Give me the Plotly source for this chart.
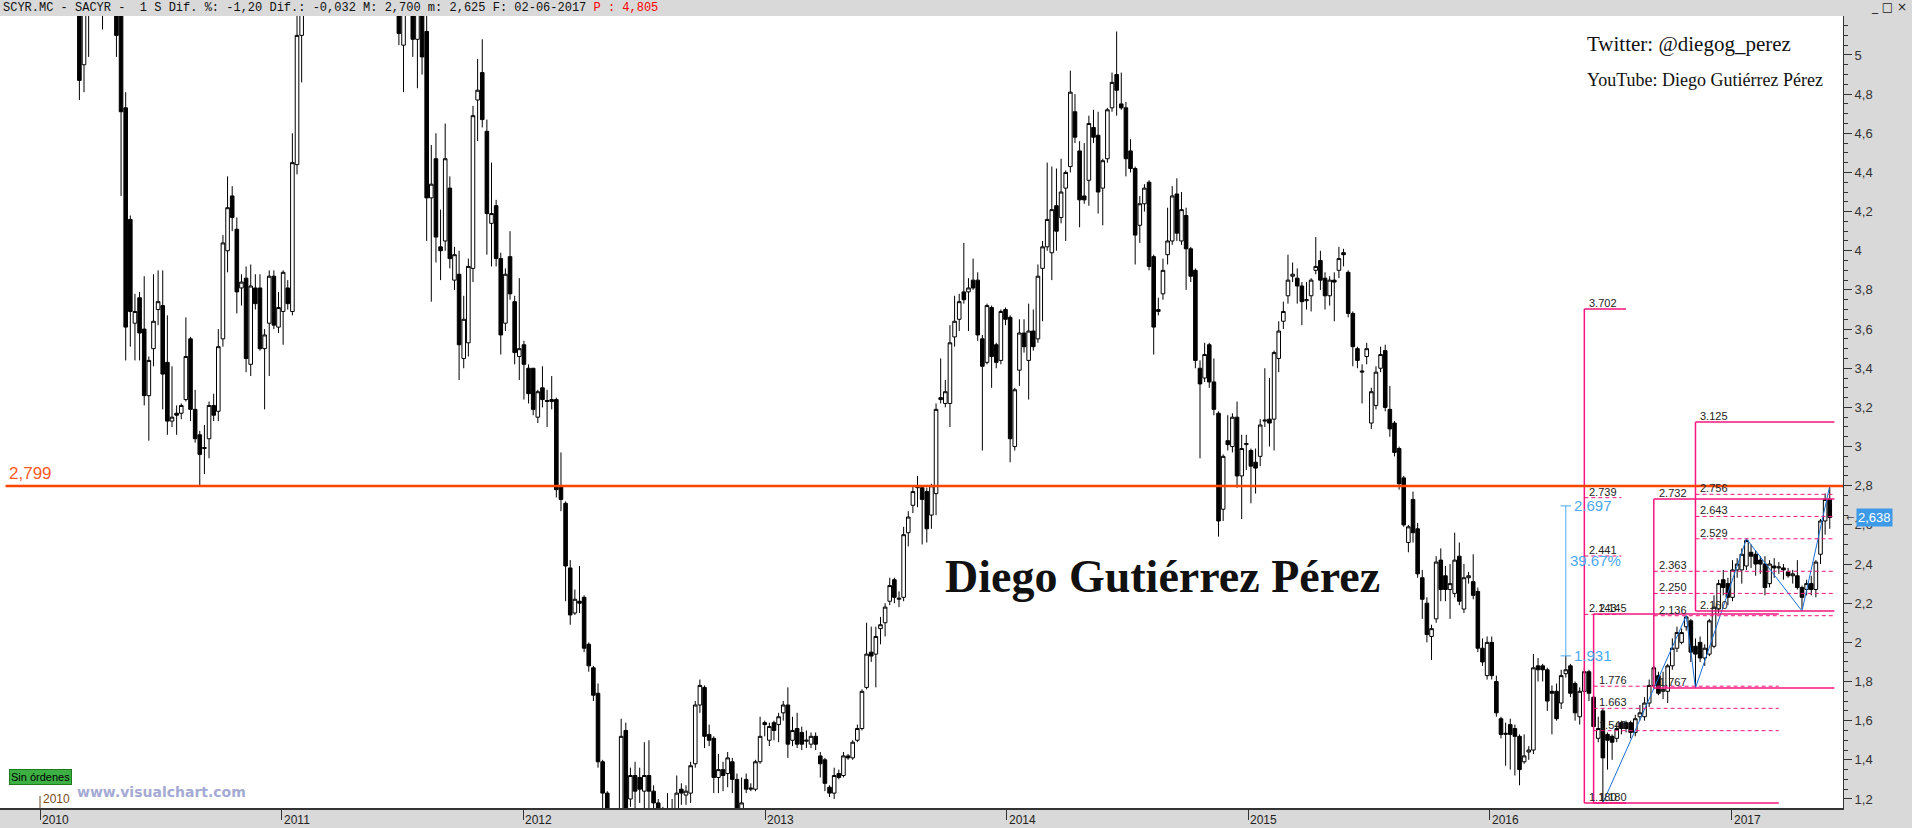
"""SACYR weekly candles 2010-2017 with fibonacci boxes, visualchart style."""

import pandas as pd
import plotly.graph_objects as go

PINK = "#f5157c"
BLUE = "#4aa8f0"
ZIG = "#1a6fd6"
ORANGE = "#ff4500"
PANEL = "#d9d9d9"

# weekly OHLC, one row of ten weeks per line, from the week of 2009-11-09
opens = [
    6.9, 6.8, 6.5, 6.3, 6.5, 6.6, 6.3, 6.4, 6.8, 6.6,
    6.1, 5.8, 5.6, 5.4, 5.6, 5.4, 5.3, 4.95, 5.35, 5.5,
    5.7, 5.5, 5.4, 5.5, 5.35, 5.22, 4.73, 4.16, 3.63, 3.76,
    3.60, 3.26, 3.50, 3.70, 3.72, 3.43, 3.13, 3.17, 3.17, 3.24,
    3.55, 3.19, 3.06, 2.99, 3.04, 3.21, 3.18, 3.55, 4.00, 4.28,
    4.11, 3.81, 3.86, 3.42, 3.81, 3.81, 3.50, 3.63, 3.87, 3.61,
    3.69, 3.81, 3.69, 4.44, 5.10, 5.4, 5.7, 5.6, 5.9, 6.1,
    5.9, 5.6, 5.8, 6.0, 6.2, 6.1, 5.9, 6.0, 5.7, 5.8,
    5.5, 5.6, 5.5, 5.4, 5.5, 5.35, 5.05, 5.30, 5.40, 5.08,
    5.30, 5.12, 4.27, 4.47, 4.02, 4.05, 4.32, 3.85, 3.88, 3.45,
    3.53, 3.91, 4.77, 4.91, 4.61, 4.14, 4.23, 3.96, 3.63, 3.97,
    3.74, 3.46, 3.52, 3.40, 3.40, 3.15, 3.30, 3.23, 3.24, 3.24,
    2.80, 2.71, 2.38, 2.15, 2.21, 2.23, 1.99, 1.87, 1.74, 1.39,
    1.23, 1.10, 1.05, 1.08, 1.55, 1.20, 1.32, 1.31, 1.24, 1.32,
    1.24, 1.18, 1.12, 1.10, 1.12, 1.15, 1.25, 1.22, 1.23, 1.38,
    1.68, 1.77, 1.53, 1.51, 1.31, 1.35, 1.33, 1.39, 1.30, 1.10,
    1.30, 1.25, 1.25, 1.39, 1.59, 1.50, 1.59, 1.58, 1.64, 1.68,
    1.50, 1.56, 1.54, 1.495, 1.48, 1.52, 1.42, 1.40, 1.26, 1.23,
    1.33, 1.32, 1.42, 1.41, 1.50, 1.56, 1.77, 1.95, 1.94, 2.07,
    2.10, 2.21, 2.32, 2.22, 2.23, 2.56, 2.70, 2.79, 2.79, 2.77,
    2.65, 2.76, 3.24, 3.22, 3.22, 3.56, 3.65, 3.79, 3.79, 3.85,
    3.85, 3.55, 3.43, 3.71, 3.52, 3.44, 3.70, 3.66, 3.00, 3.39,
    3.58, 3.44, 3.59, 3.55, 3.91, 4.02, 3.99, 4.23, 4.17, 4.32,
    4.43, 4.71, 4.51, 4.28, 4.36, 4.63, 4.59, 4.32, 4.47, 4.73,
    4.90, 4.75, 4.73, 4.51, 4.42, 4.13, 4.24, 4.35, 3.97, 3.69,
    3.78, 3.98, 4.05, 4.29, 4.05, 4.18, 4.01, 3.90, 3.40, 3.35,
    3.52, 3.33, 3.17, 2.68, 3.03, 3.00, 3.15, 2.85, 3.01, 2.98,
    2.92, 2.95, 3.13, 3.14, 3.14, 3.45, 3.64, 3.77, 3.87, 3.86,
    3.82, 3.745, 3.77, 3.90, 3.95, 3.86, 3.77, 3.85, 3.90, 3.99,
    3.89, 3.68, 3.50, 3.38, 3.46, 3.12, 3.21, 3.40, 3.49, 3.19,
    3.12, 2.99, 2.84, 2.51, 2.73, 2.58, 2.33, 2.20, 2.03, 2.12,
    2.42, 2.34, 2.27, 2.25, 2.44, 2.17, 2.33, 2.31, 2.26, 1.97,
    1.83, 2.00, 1.80, 1.61, 1.53, 1.58, 1.56, 1.52, 1.39, 1.44,
    1.45, 1.88, 1.88, 1.86, 1.75, 1.75, 1.69, 1.84, 1.88, 1.79,
    1.62, 1.75, 1.85, 1.72, 1.51, 1.65, 1.53, 1.52, 1.51, 1.59,
    1.59, 1.59, 1.54, 1.62, 1.62, 1.69, 1.78, 1.83, 1.75, 1.75,
    1.88, 1.97, 2.00, 2.08, 2.11, 1.98, 2.00, 1.92, 1.94, 1.98,
    2.17, 2.32, 2.30, 2.23, 2.37, 2.37, 2.39, 2.46, 2.45, 2.42,
    2.40, 2.30, 2.39, 2.38, 2.38, 2.36, 2.34, 2.34, 2.28, 2.27,
    2.30, 2.27, 2.45, 2.62, 2.73,
]
highs = [
    7.2, 7.0, 6.7, 6.6, 6.8, 6.7, 6.5, 6.9, 7.1, 6.7,
    6.3, 6.0, 5.8, 5.7, 5.8, 5.6, 5.4, 5.45, 5.6, 5.8,
    5.9, 5.7, 5.6, 5.6, 5.45, 5.3, 4.81, 4.18, 3.78, 3.79,
    3.87, 3.46, 3.88, 3.90, 3.90, 3.67, 3.41, 3.21, 3.22, 3.66,
    3.56, 3.29, 3.08, 3.11, 3.23, 3.27, 3.60, 4.08, 4.38, 4.33,
    4.17, 3.88, 3.92, 3.93, 3.88, 3.88, 3.60, 3.90, 3.90, 3.79,
    3.90, 3.85, 4.60, 5.25, 5.60, 5.8, 5.9, 6.0, 6.2, 6.3,
    6.0, 5.9, 6.1, 6.3, 6.4, 6.2, 6.1, 6.1, 5.9, 5.9,
    5.7, 5.8, 5.6, 5.6, 5.6, 5.40, 5.35, 5.50, 5.45, 5.35,
    5.35, 5.25, 4.54, 4.60, 4.21, 4.65, 4.38, 4.02, 4.00, 3.77,
    3.96, 4.74, 4.98, 5.08, 4.67, 4.45, 4.26, 3.99, 3.91, 4.10,
    3.77, 3.86, 3.54, 3.42, 3.40, 3.29, 3.41, 3.29, 3.36, 3.25,
    2.97, 2.72, 2.42, 2.27, 2.39, 2.24, 2.00, 1.88, 1.79, 1.40,
    1.24, 1.14, 1.12, 1.61, 1.59, 1.36, 1.39, 1.36, 1.49, 1.50,
    1.27, 1.20, 1.16, 1.23, 1.20, 1.32, 1.28, 1.27, 1.39, 1.70,
    1.81, 1.78, 1.58, 1.52, 1.43, 1.39, 1.44, 1.41, 1.33, 1.31,
    1.33, 1.28, 1.40, 1.62, 1.60, 1.59, 1.60, 1.64, 1.70, 1.77,
    1.62, 1.64, 1.57, 1.55, 1.54, 1.54, 1.44, 1.41, 1.27, 1.36,
    1.35, 1.44, 1.43, 1.50, 1.58, 1.76, 2.10, 2.08, 2.08, 2.13,
    2.20, 2.33, 2.33, 2.26, 2.59, 2.67, 2.80, 2.85, 2.80, 2.79,
    2.81, 3.22, 3.45, 3.34, 3.62, 3.77, 3.78, 4.04, 3.86, 3.96,
    3.89, 3.57, 3.73, 3.72, 3.53, 3.70, 3.71, 3.67, 3.30, 3.65,
    3.65, 3.73, 3.70, 3.93, 4.05, 4.45, 4.43, 4.42, 4.47, 4.41,
    4.92, 4.80, 4.56, 4.55, 4.69, 4.72, 4.71, 4.47, 4.73, 4.91,
    5.12, 4.91, 4.76, 4.57, 4.43, 4.28, 4.34, 4.36, 3.98, 3.76,
    3.96, 4.22, 4.33, 4.37, 4.30, 4.22, 4.02, 3.91, 3.44, 3.53,
    3.53, 3.45, 3.18, 2.96, 3.16, 3.17, 3.23, 3.06, 3.06, 2.99,
    2.99, 3.14, 3.40, 3.35, 3.49, 3.64, 3.74, 3.98, 3.94, 3.91,
    3.84, 3.84, 3.86, 4.07, 4.00, 3.89, 3.87, 3.89, 4.02, 4.01,
    3.90, 3.69, 3.51, 3.42, 3.53, 3.30, 3.41, 3.51, 3.52, 3.31,
    3.13, 3.00, 2.85, 2.60, 2.77, 2.61, 2.37, 2.23, 2.09, 2.44,
    2.48, 2.39, 2.40, 2.56, 2.51, 2.40, 2.36, 2.45, 2.28, 2.02,
    2.03, 2.03, 1.83, 1.62, 1.59, 1.61, 1.58, 1.53, 1.53, 1.47,
    1.94, 1.92, 1.89, 1.87, 1.78, 1.79, 1.86, 1.931, 1.89, 1.80,
    1.77, 1.87, 1.86, 1.73, 1.62, 1.66, 1.54, 1.53, 1.59, 1.60,
    1.60, 1.60, 1.63, 1.68, 1.72, 1.81, 1.88, 1.85, 1.85, 1.89,
    2.02, 2.08, 2.07, 2.136, 2.12, 2.02, 2.03, 1.99, 2.12, 2.24,
    2.32, 2.37, 2.33, 2.42, 2.43, 2.48, 2.529, 2.50, 2.47, 2.44,
    2.44, 2.42, 2.43, 2.41, 2.40, 2.38, 2.37, 2.42, 2.29, 2.32,
    2.34, 2.42, 2.63, 2.76, 2.80,
]
lows = [
    6.6, 6.4, 6.1, 6.0, 6.3, 6.2, 6.0, 6.3, 6.5, 6.0,
    5.7, 5.5, 5.35, 5.3, 5.3, 5.25, 4.77, 4.81, 4.99, 5.3,
    5.4, 5.13, 5.25, 5.3, 4.99, 4.28, 3.44, 3.51, 3.44, 3.44,
    3.21, 3.03, 3.41, 3.62, 3.19, 3.06, 3.10, 3.06, 3.14, 3.23,
    3.13, 3.02, 2.80, 2.86, 2.94, 3.13, 3.13, 3.51, 3.89, 4.10,
    3.68, 3.72, 3.38, 3.36, 3.70, 3.49, 3.19, 3.36, 3.60, 3.58,
    3.52, 3.70, 3.67, 4.39, 4.86, 5.3, 5.5, 5.5, 5.8, 5.8,
    5.5, 5.4, 5.7, 5.9, 6.0, 5.8, 5.7, 5.6, 5.5, 5.4,
    5.3, 5.4, 5.3, 5.25, 5.3, 5.05, 4.81, 5.22, 4.99, 4.83,
    4.90, 4.05, 3.74, 3.94, 3.85, 4.00, 3.91, 3.80, 3.34, 3.40,
    3.46, 3.84, 4.56, 4.63, 3.98, 3.92, 3.92, 3.47, 3.59, 3.75,
    3.42, 3.34, 3.24, 3.22, 3.16, 3.12, 3.20, 3.10, 3.19, 2.74,
    2.67, 2.21, 2.09, 2.14, 2.15, 1.95, 1.85, 1.70, 1.36, 1.15,
    1.05, 1.02, 1.00, 1.06, 1.08, 1.16, 1.15, 1.18, 1.15, 1.15,
    1.15, 1.08, 1.05, 1.06, 1.07, 1.12, 1.17, 1.17, 1.18, 1.36,
    1.64, 1.46, 1.47, 1.23, 1.23, 1.24, 1.26, 1.23, 1.06, 1.08,
    1.23, 1.24, 1.24, 1.38, 1.52, 1.47, 1.50, 1.49, 1.60, 1.41,
    1.47, 1.46, 1.45, 1.46, 1.46, 1.45, 1.31, 1.24, 1.21, 1.20,
    1.30, 1.31, 1.40, 1.40, 1.49, 1.55, 1.76, 1.90, 1.77, 1.99,
    2.03, 2.19, 2.20, 2.18, 2.21, 2.49, 2.66, 2.69, 2.50, 2.51,
    2.58, 2.65, 3.22, 3.20, 3.10, 3.51, 3.59, 3.73, 3.59, 3.80,
    3.54, 2.98, 3.42, 3.30, 3.40, 3.42, 3.62, 2.92, 2.98, 3.31,
    3.48, 3.24, 3.49, 3.53, 3.64, 4.00, 3.85, 4.00, 4.14, 4.05,
    4.40, 4.55, 4.12, 4.24, 4.23, 4.55, 4.19, 4.13, 4.45, 4.71,
    4.69, 4.72, 4.38, 4.40, 3.93, 4.04, 4.20, 3.90, 3.47, 3.67,
    3.75, 3.93, 4.03, 4.05, 4.03, 3.80, 3.84, 3.40, 2.94, 3.33,
    3.30, 3.16, 2.54, 2.62, 2.98, 2.97, 2.79, 2.63, 2.88, 2.71,
    2.76, 2.90, 3.10, 3.00, 2.98, 3.38, 3.60, 3.73, 3.84, 3.73,
    3.62, 3.70, 3.69, 3.88, 3.80, 3.70, 3.72, 3.64, 3.86, 3.92,
    3.66, 3.41, 3.40, 3.22, 3.42, 3.09, 3.19, 3.38, 3.18, 3.05,
    2.95, 2.78, 2.59, 2.46, 2.51, 2.33, 2.12, 2.00, 1.91, 2.10,
    2.21, 2.21, 2.12, 2.23, 2.19, 2.15, 2.30, 2.22, 1.95, 1.88,
    1.81, 1.81, 1.62, 1.51, 1.37, 1.35, 1.32, 1.27, 1.38, 1.40,
    1.43, 1.80, 1.80, 1.65, 1.53, 1.60, 1.66, 1.82, 1.72, 1.60,
    1.58, 1.73, 1.70, 1.55, 1.49, 1.18, 1.35, 1.40, 1.49, 1.53,
    1.54, 1.51, 1.52, 1.60, 1.60, 1.67, 1.76, 1.73, 1.71, 1.69,
    1.86, 1.95, 1.99, 2.06, 1.90, 1.767, 1.90, 1.88, 1.93, 1.97,
    2.15, 2.24, 2.19, 2.21, 2.33, 2.30, 2.37, 2.38, 2.34, 2.35,
    2.24, 2.28, 2.33, 2.35, 2.32, 2.33, 2.30, 2.27, 2.17, 2.24,
    2.24, 2.23, 2.40, 2.55, 2.58,
]
closes = [
    6.8, 6.5, 6.3, 6.5, 6.6, 6.3, 6.4, 6.8, 6.6, 6.1,
    5.8, 5.6, 5.4, 5.6, 5.4, 5.3, 4.87, 5.35, 5.5, 5.7,
    5.5, 5.4, 5.5, 5.35, 5.10, 4.71, 3.61, 3.69, 3.69, 3.58,
    3.26, 3.44, 3.64, 3.74, 3.37, 3.13, 3.15, 3.16, 3.21, 3.46,
    3.19, 3.04, 2.96, 2.995, 3.21, 3.16, 3.51, 4.04, 4.22, 4.17,
    3.79, 3.84, 3.45, 3.82, 3.73, 3.50, 3.57, 3.87, 3.62, 3.71,
    3.89, 3.73, 4.45, 5.10, 5.40, 5.7, 5.6, 5.9, 6.1, 5.9,
    5.6, 5.8, 6.0, 6.2, 6.1, 5.9, 6.0, 5.7, 5.8, 5.5,
    5.6, 5.5, 5.4, 5.5, 5.35, 5.11, 5.30, 5.40, 5.08, 5.30,
    4.99, 4.27, 4.34, 4.07, 4.00, 4.47, 3.96, 3.98, 3.52, 3.65,
    3.92, 4.69, 4.82, 4.67, 4.19, 4.19, 3.96, 3.57, 3.88, 3.78,
    3.48, 3.50, 3.42, 3.27, 3.19, 3.28, 3.24, 3.235, 3.23, 2.78,
    2.73, 2.39, 2.14, 2.22, 2.20, 1.97, 1.88, 1.73, 1.39, 1.23,
    1.10, 1.05, 1.08, 1.52, 1.12, 1.32, 1.24, 1.25, 1.32, 1.24,
    1.18, 1.12, 1.10, 1.12, 1.15, 1.23, 1.23, 1.24, 1.37, 1.68,
    1.78, 1.52, 1.50, 1.31, 1.35, 1.32, 1.41, 1.30, 1.10, 1.18,
    1.25, 1.255, 1.39, 1.52, 1.58, 1.57, 1.55, 1.62, 1.68, 1.48,
    1.55, 1.48, 1.48, 1.50, 1.52, 1.48, 1.38, 1.28, 1.23, 1.32,
    1.31, 1.42, 1.41, 1.49, 1.56, 1.75, 1.94, 1.93, 2.03, 2.09,
    2.18, 2.29, 2.23, 2.225, 2.55, 2.64, 2.77, 2.795, 2.73, 2.58,
    2.80, 3.19, 3.25, 3.28, 3.53, 3.64, 3.74, 3.75, 3.81, 3.81,
    3.57, 3.41, 3.72, 3.46, 3.43, 3.69, 3.65, 3.04, 3.29, 3.58,
    3.51, 3.59, 3.51, 3.87, 4.02, 4.16, 4.21, 4.10, 4.30, 4.40,
    4.81, 4.58, 4.26, 4.26, 4.65, 4.58, 4.30, 4.46, 4.72, 4.86,
    4.82, 4.73, 4.47, 4.42, 4.08, 4.24, 4.32, 3.92, 3.61, 3.70,
    3.90, 4.05, 4.28, 4.09, 4.21, 4.01, 3.87, 3.44, 3.32, 3.47,
    3.33, 3.19, 2.62, 2.95, 3.01, 3.15, 2.85, 2.99, 3.015, 2.90,
    2.89, 3.11, 3.135, 3.12, 3.48, 3.59, 3.69, 3.85, 3.88, 3.82,
    3.74, 3.75, 3.85, 3.92, 3.85, 3.77, 3.85, 3.84, 3.96, 3.98,
    3.68, 3.51, 3.44, 3.385, 3.50, 3.28, 3.38, 3.47, 3.20, 3.09,
    2.97, 2.81, 2.60, 2.59, 2.56, 2.35, 2.22, 2.04, 2.07, 2.41,
    2.27, 2.27, 2.30, 2.42, 2.21, 2.33, 2.34, 2.24, 1.97, 1.90,
    2.00, 1.83, 1.64, 1.53, 1.535, 1.53, 1.52, 1.35, 1.42, 1.45,
    1.87, 1.86, 1.86, 1.70, 1.74, 1.61, 1.83, 1.86, 1.74, 1.64,
    1.75, 1.85, 1.74, 1.57, 1.56, 1.41, 1.50, 1.49, 1.56, 1.56,
    1.56, 1.54, 1.61, 1.64, 1.69, 1.78, 1.87, 1.74, 1.76, 1.88,
    1.97, 2.05, 2.05, 2.13, 1.95, 1.94, 1.92, 1.97, 2.11, 2.18,
    2.30, 2.28, 2.23, 2.37, 2.40, 2.45, 2.52, 2.44, 2.40, 2.40,
    2.28, 2.40, 2.38, 2.385, 2.37, 2.34, 2.35, 2.28, 2.23, 2.30,
    2.27, 2.41, 2.62, 2.73, 2.638,
]

last_close = 2.638
support = 2.799
year_labels = ["2010", "2011", "2012", "2013", "2014", "2015", "2016", "2017"]

# fibonacci boxes: start week, end week, levels top -> bottom (k = weeks after 2010-01-04)
fib_boxes = [
    {"start": 333, "end": 342, "dash_end": 341, "levels": [3.702, 2.739, 2.441, 2.143, 1.180]},
    {"start": 335, "end": 375, "dash_end": 375, "levels": [2.145, 1.776, 1.663, 1.549, 1.180]},
    {"start": 348, "end": 387, "dash_end": 387, "levels": [2.732, 2.363, 2.250, 2.136, 1.767]},
    {"start": 357, "end": 387, "dash_end": 387, "levels": [3.125, 2.756, 2.643, 2.529, 2.160]},
]
# price swing measured with the blue ruler
ruler_week = 329
ruler_low, ruler_high = 1.931, 2.697
ruler_pct = "39.67%"
# hand drawn zigzag
zig_weeks = [337, 355, 357, 368, 380, 386]
zig_prices = [1.180, 2.136, 1.767, 2.529, 2.160, 2.799]

weeks = pd.date_range(end="2017-05-29", periods=len(closes), freq="7D")


def week(k, days=0):
    return pd.Timestamp("2010-01-04") + pd.Timedelta(days=7 * k + days)


fig = go.Figure()
fig.add_trace(
    go.Candlestick(
        x=weeks,
        open=opens,
        high=highs,
        low=lows,
        close=closes,
        increasing={"line": {"color": "#000000", "width": 1}, "fillcolor": "#ffffff"},
        decreasing={"line": {"color": "#000000", "width": 1}, "fillcolor": "#000000"},
        whiskerwidth=0,
        hoverinfo="skip",
        showlegend=False,
    )
)
fig.add_trace(
    go.Scatter(
        x=[week(k) for k in zig_weeks],
        y=zig_prices,
        mode="lines",
        line={"color": ZIG, "width": 1},
        hoverinfo="skip",
        showlegend=False,
    )
)

shapes = []
annotations = []


def hline(k0, k1, y, dash="solid", width=1.5, color=PINK):
    shapes.append({
        "type": "line", "xref": "x", "yref": "y",
        "x0": week(k0), "x1": week(k1), "y0": y, "y1": y,
        "line": {"color": color, "width": width, "dash": dash},
    })


for box in fib_boxes:
    lv = box["levels"]
    shapes.append({
        "type": "line", "xref": "x", "yref": "y",
        "x0": week(box["start"]), "x1": week(box["start"]), "y0": lv[-1], "y1": lv[0],
        "line": {"color": PINK, "width": 1.5},
    })
    for i, level in enumerate(lv):
        if i in (0, len(lv) - 1):
            hline(box["start"], box["end"], level)
        else:
            hline(box["start"], box["dash_end"], level, dash="4px,3px", width=1)
        annotations.append({
            "x": week(box["start"]), "y": level, "xref": "x", "yref": "y",
            "text": f"{level:.3f}", "showarrow": False,
            "xanchor": "left", "yanchor": "bottom", "xshift": 3, "yshift": -2,
            "font": {"family": "Liberation Sans", "size": 11, "color": "#222222"},
        })

# blue ruler
shapes.append({
    "type": "line", "xref": "x", "yref": "y",
    "x0": week(ruler_week), "x1": week(ruler_week), "y0": ruler_low, "y1": ruler_high,
    "line": {"color": BLUE, "width": 1},
})
for y, sign in ((ruler_high, -1), (ruler_low, 1)):
    shapes.append({
        "type": "line", "xref": "x", "yref": "y",
        "x0": week(ruler_week, -8), "x1": week(ruler_week, 8), "y0": y, "y1": y,
        "line": {"color": BLUE, "width": 1},
    })
    shapes.append({
        "type": "path", "xref": "x", "yref": "y",
        "path": (
            f"M {week(ruler_week, -5).isoformat()},{y + sign * 0.025} "
            f"L {week(ruler_week).isoformat()},{y} "
            f"L {week(ruler_week, 5).isoformat()},{y + sign * 0.025}"
        ),
        "line": {"color": BLUE, "width": 1},
    })
for y, txt, xs in ((ruler_high, f"{ruler_high:.3f}", 6), (ruler_low, f"{ruler_low:.3f}", 6),
                   (2.42, ruler_pct, 2)):
    annotations.append({
        "x": week(ruler_week), "y": y, "xref": "x", "yref": "y", "text": txt,
        "showarrow": False, "xanchor": "left", "yanchor": "middle", "xshift": xs,
        "font": {"family": "Liberation Sans", "size": 15, "color": BLUE},
    })

# support line 2,799
shapes.append({
    "type": "line", "xref": "paper", "yref": "y", "x0": 0.003, "x1": 1,
    "y0": support, "y1": support, "line": {"color": ORANGE, "width": 2.5},
})
annotations.append({
    "x": 0.004, "y": support, "xref": "paper", "yref": "y",
    "text": f"{support:.3f}".replace(".", ","), "showarrow": False,
    "xanchor": "left", "yanchor": "bottom", "yshift": 1,
    "font": {"family": "Liberation Sans", "size": 17, "color": "#ff5a1e"},
})

# year labels under the ticks
for yr in year_labels:
    annotations.append({
        "x": f"{yr}-01-01", "y": 0, "xref": "x", "yref": "paper", "text": yr,
        "showarrow": False, "xanchor": "left", "yanchor": "top", "xshift": 0, "yshift": -3,
        "font": {"family": "Liberation Sans", "size": 12, "color": "#222222"},
    })

# session marker 2010 above axis
shapes.append({
    "type": "line", "xref": "paper", "yref": "paper", "x0": 40 / 1843, "x1": 40 / 1843,
    "y0": 0, "y1": 12 / 792, "line": {"color": "#6b4a2a", "width": 1},
})
annotations.append({
    "x": 41 / 1843, "y": 0, "xref": "paper", "yref": "paper", "text": "2010",
    "showarrow": False, "xanchor": "left", "yanchor": "bottom", "yshift": 0,
    "font": {"family": "Liberation Sans", "size": 12, "color": "#7a4a1a"},
})

# header
header = ("SCYR.MC - SACYR -&nbsp; 1 S Dif. %: -1,20 Dif.: -0,032 M: 2,700 m: 2,625 "
          "F: 02-06-2017 <span style='color:#ff0000'>P : 4,805</span>")
annotations.append({
    "x": 0, "y": 1, "xref": "paper", "yref": "paper", "text": header,
    "showarrow": False, "xanchor": "left", "yanchor": "middle", "xshift": 1, "yshift": 8,
    "font": {"family": "Liberation Mono", "size": 12, "color": "#111111"},
})
annotations.append({
    "x": 1, "y": 1, "xref": "paper", "yref": "paper", "text": "_ □ ×",
    "showarrow": False, "xanchor": "center", "yanchor": "middle", "xshift": 46, "yshift": 9,
    "font": {"family": "DejaVu Sans", "size": 12, "color": "#222222"},
})

# author texts
annotations += [
    {"x": 1162 / 1843, "y": (808 - 577) / 792, "xref": "paper", "yref": "paper",
     "text": "<b>Diego Gutiérrez Pérez</b>", "showarrow": False,
     "xanchor": "center", "yanchor": "middle",
     "font": {"family": "Liberation Serif", "size": 46, "color": "#111111"}},
    {"x": 1585 / 1843, "y": (808 - 44) / 792, "xref": "paper", "yref": "paper",
     "text": "Twitter: @diegog_perez", "showarrow": False,
     "xanchor": "left", "yanchor": "middle",
     "font": {"family": "Liberation Serif", "size": 21, "color": "#111111"}},
    {"x": 1585 / 1843, "y": (808 - 80) / 792, "xref": "paper", "yref": "paper",
     "text": "YouTube: Diego Gutiérrez Pérez", "showarrow": False,
     "xanchor": "left", "yanchor": "middle",
     "font": {"family": "Liberation Serif", "size": 18, "color": "#111111"}},
    {"x": 9 / 1843, "y": (808 - 777) / 792, "xref": "paper", "yref": "paper",
     "text": "Sin órdenes", "showarrow": False, "xanchor": "left", "yanchor": "middle",
     "bgcolor": "#3cb043", "bordercolor": "#1d7a1d", "borderwidth": 1, "borderpad": 1,
     "font": {"family": "Liberation Sans", "size": 11, "color": "#000000"}},
    {"x": 75 / 1843, "y": (808 - 792) / 792, "xref": "paper", "yref": "paper",
     "text": "<b>www.visualchart.com</b>", "showarrow": False,
     "xanchor": "left", "yanchor": "middle",
     "font": {"family": "DejaVu Sans", "size": 14, "color": "#a4aad4"}},
    # current price tag on the axis
    {"x": 1, "y": last_close, "xref": "paper", "yref": "y",
     "text": f"{last_close:.3f}".replace(".", ","), "showarrow": False,
     "xanchor": "left", "yanchor": "middle", "xshift": 13,
     "bgcolor": "#3d9ae8", "borderpad": 1,
     "font": {"family": "Liberation Sans", "size": 13, "color": "#ffffff"}},
    {"x": 1, "y": last_close, "xref": "paper", "yref": "y", "text": "←",
     "showarrow": False, "xanchor": "left", "yanchor": "middle", "xshift": 1,
     "font": {"family": "DejaVu Sans", "size": 10, "color": "#444444"}},
]

fig.update_layout(
    width=1912,
    height=828,
    margin={"l": 0, "r": 69, "t": 16, "b": 20},
    paper_bgcolor=PANEL,
    plot_bgcolor="#ffffff",
    separators=",.",
    showlegend=False,
    boxgap=0.12,
    boxgroupgap=0.12,
    shapes=shapes,
    annotations=annotations,
    xaxis={
        "type": "date",
        "range": ["2009-11-01", "2017-06-18"],
        "rangeslider": {"visible": False},
        "showgrid": False,
        "zeroline": False,
        "showline": True,
        "linecolor": "#333333",
        "linewidth": 2,
        "ticks": "outside",
        "ticklen": 10,
        "tickcolor": "#333333",
        "tick0": "2010-01-01",
        "dtick": "M12",
        "showticklabels": False,
        "fixedrange": True,
    },
    yaxis={
        "side": "right",
        "range": [1.154, 5.199],
        "showgrid": False,
        "zeroline": False,
        "showline": True,
        "linecolor": "#333333",
        "linewidth": 1,
        "ticks": "outside",
        "ticklen": 8,
        "tickcolor": "#333333",
        "tick0": 1.2,
        "dtick": 0.2,
        "minor": {"dtick": 0.05, "ticks": "outside", "ticklen": 4, "tickcolor": "#333333"},
        "tickfont": {"family": "Liberation Sans", "size": 13, "color": "#333333"},
        "fixedrange": True,
    },
)

fig.write_html(
    "out.html",
    config={"displayModeBar": False},
    post_script="document.body.style.margin='0';document.body.style.overflow='hidden';",
)
